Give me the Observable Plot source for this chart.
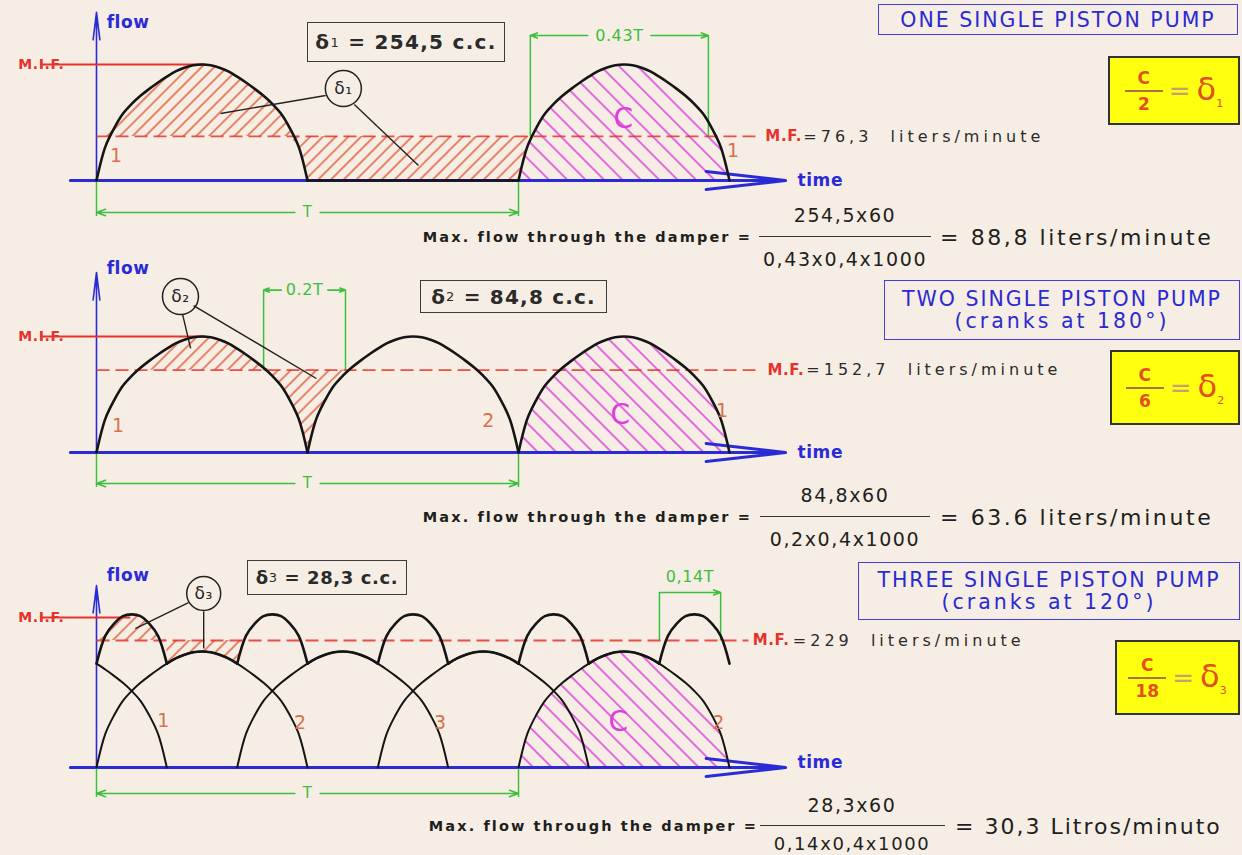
<!DOCTYPE html>
<html><head><meta charset="utf-8">
<script src="https://cdn.jsdelivr.net/npm/d3@7"></script>
<script src="https://cdn.jsdelivr.net/npm/@observablehq/plot@0.6"></script>
<style>
body{margin:0;background:#f6eee4;}
#wrap{position:relative;width:1242px;height:855px;overflow:hidden;font-family:"DejaVu Sans",sans-serif;background:#f6eee4;}
.panel{position:absolute;left:0;}
.ov{position:absolute;white-space:nowrap;}
.dbox{position:absolute;box-sizing:border-box;border:1.6px solid #3a3a3a;display:flex;align-items:center;justify-content:center;font-weight:bold;color:#2a2a2a;white-space:nowrap;}
.dbox sub{font-size:13px;font-weight:normal;vertical-align:-3px;}
.tbox{position:absolute;box-sizing:border-box;border:1.6px solid #4040e0;display:flex;flex-direction:column;align-items:center;justify-content:center;font-size:20.5px;line-height:22px;color:#2a2ad0;letter-spacing:2px;white-space:nowrap;}
.tbox .l2{letter-spacing:3px;}
.ybox{position:absolute;box-sizing:border-box;border:2px solid #333;background:#ffff10;display:flex;align-items:center;justify-content:center;gap:6px;color:#e2501c;}
.frac{display:flex;flex-direction:column;align-items:center;font-size:17px;font-weight:bold;line-height:18px;}
.frac .bar{width:38px;border-top:2px solid #b07040;margin:3px 0;}
.eq{font-size:26px;color:#c8a070;}
.dl{font-size:32px;}
.dl sub{font-size:11px;}
.lab{font-size:14.5px;font-weight:bold;color:#1e1e1e;letter-spacing:2.1px;}
.num{font-size:19px;color:#1e1e1e;letter-spacing:1.6px;}
.res{font-size:22px;color:#1e1e1e;letter-spacing:2.6px;}
.fbar{position:absolute;border-top:1.6px solid #333;height:0;}
</style></head><body><div id="wrap"></div>
<script>
// ---------- data ----------
// arch profile of one single piston pump: height (fraction of peak) at k/24 of a half-period, k=0..12
const archProfile = [0, 0.29, 0.45, 0.575, 0.66, 0.73, 0.79, 0.845, 0.895, 0.94, 0.972, 0.993, 1.0];
const STEPS = 48; // samples per period T
const pumpStarts = [[0, 1], [0, 0.5, 1], [-1/3, 0, 1/3, 2/3, 1, 4/3]];
const drawnArches = [[], [], [-1/3, 0, 1/3, 2/3, 1]];
const meanFlow = [0.38, 0.71, 1.095];
const maxFlow = [1.0, 1.0, 1.293];
const mifEnd = [0.258, 0.258, 0.08];
const mfEnd = [1.573, 1.573, 1.545];
const hatchAbove = [[0, 0.5], [0, 0.5], [0, 1/6]];
const hatchBelow = [[0.25, 1.25], [0.25, 0.75], [1/6, 0.375]];
const cArch = [1, 1, 1];
const segLen = [0.5, 0.5, 1/6];
const mfValueText = ["=76,3  liters/minute", "=152,7  liters/minute", "=229  liters/minute"];
const mfLabelX = [1.585, 1.590, 1.555];
const mfValueX = [1.675, 1.682, 1.650];
const flowLabelY = [1.362, 1.586, 1.655];
const yAxisTop = [1.45, 1.552, 1.569];
const timeLabelY = [0.0, 0.0, 0.04];
const pumpLabelText = [["1", "1"], ["1", "2", "1"], ["1", "2", "3", "2"]];
const pumpLabelX = [[0.047, 1.509], [0.052, 0.929, 1.483], [0.159, 0.483, 0.815, 1.474]];
const pumpLabelY = [[0.216, 0.259], [0.233, 0.276, 0.362], [0.405, 0.388, 0.388, 0.388]];
const cLabelX = [1.249, 1.242, 1.237];
const cLabelY = [0.534, 0.319, 0.388];
const calloutX = [0.585, 0.199, 0.254];
const calloutY = [0.793, 1.345, 1.5];
const calloutText = ["δ₁", "δ₂", "δ₃"];
const leaders = [
  [[0.543, 0.733, 0.294, 0.578], [0.611, 0.655, 0.763, 0.129]],
  [[0.204, 1.190, 0.223, 0.897], [0.230, 1.267, 0.521, 0.638]],
  [[0.218, 1.422, 0.092, 1.198], [0.254, 1.345, 0.254, 1.026]]
];
const dimText = ["0.43T", "0.2T", "0,14T"];
const dimSpan = [[1.028, 1.45], [0.396, 0.59], [1.334, 1.479]];
const dimTop = [1.25, 1.40, 1.509];
const dimTextY = [1.25, 1.40, 1.64];
const tDimY = [-0.276, -0.267, -0.224];
const deltaValue = ["254,5", "84,8", "28,3"];
const titles = [["ONE SINGLE PISTON PUMP"], ["TWO SINGLE PISTON PUMP", "(cranks at 180°)"], ["THREE SINGLE PISTON PUMP", "(cranks at 120°)"]];
const ratioDenom = ["2", "6", "18"];
const numerators = ["254,5x60", "84,8x60", "28,3x60"];
const denominators = ["0,43x0,4x1000", "0,2x0,4x1000", "0,14x0,4x1000"];
const results = ["= 88,8 liters/minute", "= 63.6 liters/minute", "= 30,3 Litros/minuto"];

// ---------- layout ----------
const W = 1242;
const panelTop = [0, 265, 548];
const panelHeight = [265, 283, 307];
const baseFromTop = [180, 187, 219];
const PXT = 422, PXU = 116, X0 = 96;
const deltaBox = [[307, 22, 198, 40], [420, 280, 187, 33], [247, 560, 160, 35]];
const deltaFont = [20, 20, 18];
const deltaSpacing = [1.3, 1.2, 0.6];
const titleBox = [[878, 4, 360, 31], [884, 280, 356, 60], [858, 562, 382, 58]];
const yellowBox = [[1108, 56, 132, 69], [1110, 350, 130, 75], [1115, 640, 125, 75]];
const formulaY = [237, 517, 826];
const numDy = [-22, -22, -21];
const denDy = [22, 22, 17];
const labelRight = [752, 752, 758];
const fracCX = [845, 845, 852];
const fracW = [172, 170, 185];
const resultLeft = [940, 940, 955];
const resultSpacing = [2.6, 2.6, 2.0];

const BLUE = "#2b2bd6", RED = "#e5322b", GREEN = "#3cbf3c", ORANGE = "#e0603a", MAG = "#dd3ddd";
const wrap = document.getElementById("wrap");

function arch(j) { if (j < 0 || j > 24) return 0; return archProfile[j <= 12 ? j : 24 - j]; }

function panel(i) {
  const starts = pumpStarts[i].map(s => Math.round(s * STEPS));
  const flowAt = j => d3.sum(starts, s => arch(j - s));
  const grid = d3.range(0, 73).map(j => ({j, x: j / STEPS, flow: flowAt(j)}));
  const mf = meanFlow[i];
  const inR = r => grid.filter(d => d.x >= r[0] - 1e-9 && d.x <= r[1] + 1e-9);
  const above = inR(hatchAbove[i]).map(d => ({x: d.x, y1: mf, y2: Math.max(d.flow, mf)}));
  const below = inR(hatchBelow[i]).map(d => ({x: d.x, y1: Math.min(d.flow, mf), y2: mf}));
  const cs = Math.round(cArch[i] * STEPS);
  const cArea = grid.filter(d => d.j >= cs && d.j <= cs + 24).map(d => ({x: d.x, y: arch(d.j - cs)}));
  const segN = Math.round(segLen[i] * STEPS);
  const combined = [];
  for (let a = 0; a < 72; a += segN) for (let j = a; j <= a + segN; j++) combined.push({x: j / STEPS, flow: flowAt(j), seg: a});
  const singles = [];
  for (const s of drawnArches[i]) {
    const si = Math.round(s * STEPS);
    for (let j = Math.max(0, si); j <= si + 24; j++) singles.push({x: j / STEPS, y: arch(j - si), z: si});
  }
  const h = panelHeight[i], b = baseFromTop[i];
  const lk = (arr) => arr.map(([x1, y1, x2, y2]) => ({x1, y1, x2, y2}));
  const [d1, d2] = dimSpan[i];
  const dmid = (d1 + d2) / 2, gap = i === 2 ? 0 : (i === 0 ? 0.075 : 0.055);
  const dimLines = i === 2
    ? [{x1: d1, y1: dimTop[i], x2: d2, y2: dimTop[i]}]
    : [{x1: dmid - gap, y1: dimTop[i], x2: d1, y2: dimTop[i]}, {x1: dmid + gap, y1: dimTop[i], x2: d2, y2: dimTop[i]}];
  const dimVerts = [{x1: d1, y1: mf, x2: d1, y2: dimTop[i]}, {x1: d2, y1: mf, x2: d2, y2: dimTop[i]}];
  const tY = tDimY[i];
  const tArrows = [{x1: 0.47, y1: tY, x2: 0, y2: tY}, {x1: 0.53, y1: tY, x2: 1, y2: tY}];
  const tExt = [{x1: 0, y1: 0, x2: 0, y2: tY - 0.03}, {x1: 1, y1: 0, x2: 1, y2: tY - 0.03}];
  const pl = pumpLabelText[i].map((t, k) => ({t, x: pumpLabelX[i][k], y: pumpLabelY[i][k]}));
  const F = "DejaVu Sans";

  const svg = Plot.plot({
    width: W, height: h,
    marginLeft: 0, marginRight: 0, marginTop: 0, marginBottom: 0,
    x: {domain: [-X0 / PXT, (W - X0) / PXT], axis: null},
    y: {domain: [-(h - b) / PXU, b / PXU], axis: null},
    style: {background: "transparent", overflow: "visible", letterSpacing: "0.6px"},
    marks: [
      Plot.areaY(above, {x: "x", y1: "y1", y2: "y2", fill: `url(#hr${i})`}),
      Plot.areaY(below, {x: "x", y1: "y1", y2: "y2", fill: `url(#hr${i})`}),
      Plot.areaY(cArea, {x: "x", y1: 0, y2: "y", fill: `url(#hm${i})`, curve: "catmull-rom"}),
      Plot.arrow([{x1: -0.062, x2: 1.633, y: 0}], {x1: "x1", x2: "x2", y1: "y", y2: "y", stroke: BLUE, strokeWidth: 3, headLength: 40, headAngle: 13}),
      Plot.arrow([{x: 0, y1: 0, y2: yAxisTop[i]}], {x1: "x", x2: "x", y1: "y1", y2: "y2", stroke: BLUE, strokeWidth: 1.6, headLength: 26, headAngle: 14}),
      Plot.link(tExt, {x1: "x1", y1: "y1", x2: "x2", y2: "y2", stroke: GREEN, strokeWidth: 1.5}),
      Plot.arrow(tArrows, {x1: "x1", y1: "y1", x2: "x2", y2: "y2", stroke: GREEN, strokeWidth: 1.6, headLength: 9, headAngle: 40}),
      Plot.text([{x: 0.5, y: tY, t: "T"}], {x: "x", y: "y", text: "t", fill: GREEN, fontSize: 15, fontFamily: F}),
      Plot.link(dimVerts, {x1: "x1", y1: "y1", x2: "x2", y2: "y2", stroke: GREEN, strokeWidth: 1.5}),
      Plot.arrow(dimLines, {x1: "x1", y1: "y1", x2: "x2", y2: "y2", stroke: GREEN, strokeWidth: 1.6, headLength: 7, headAngle: 40}),
      Plot.text([{x: dmid, y: dimTextY[i], t: dimText[i]}], {x: "x", y: "y", text: "t", fill: GREEN, fontSize: 16, fontFamily: F}),
      Plot.link([{x1: 0, x2: mfEnd[i], y: mf}], {x1: "x1", x2: "x2", y1: "y", y2: "y", stroke: RED, strokeWidth: 1.8, strokeDasharray: "13,6", strokeOpacity: 0.85}),
      Plot.link([{x1: -0.133, x2: mifEnd[i], y: maxFlow[i]}], {x1: "x1", x2: "x2", y1: "y", y2: "y", stroke: RED, strokeWidth: 2.2}),
      Plot.line(singles, {x: "x", y: "y", z: "z", stroke: "#151515", strokeWidth: 2, curve: "catmull-rom"}),
      Plot.line(combined, {x: "x", y: "flow", z: "seg", stroke: "#151515", strokeWidth: 2.6, curve: "catmull-rom"}),
      Plot.dot([{x: calloutX[i], y: calloutY[i]}], {x: "x", y: "y", r: i === 2 ? 17 : 18, stroke: "#222", strokeWidth: 1.5, fill: "none"}),
      Plot.text([{x: calloutX[i], y: calloutY[i], t: calloutText[i]}], {x: "x", y: "y", text: "t", fontSize: 17, fill: "#222", fontFamily: F}),
      Plot.link(lk(leaders[i]), {x1: "x1", y1: "y1", x2: "x2", y2: "y2", stroke: "#222", strokeWidth: 1.4}),
      Plot.text([{x: 0.024, y: flowLabelY[i], t: "flow"}], {x: "x", y: "y", text: "t", fill: BLUE, fontSize: 17, fontWeight: "bold", textAnchor: "start", fontFamily: F}),
      Plot.text([{x: 1.661, y: timeLabelY[i], t: "time"}], {x: "x", y: "y", text: "t", fill: BLUE, fontSize: 17, fontWeight: "bold", textAnchor: "start", fontFamily: F}),
      Plot.text([{x: -0.076, y: maxFlow[i], t: "M.I.F."}], {x: "x", y: "y", text: "t", fill: RED, fontSize: 14, fontWeight: "bold", textAnchor: "end", fontFamily: F}),
      Plot.text([{x: mfLabelX[i], y: mf, t: "M.F."}], {x: "x", y: "y", text: "t", fill: RED, fontSize: 15, fontWeight: "bold", textAnchor: "start", fontFamily: F}),
      Plot.text([{x: mfValueX[i], y: mf, t: mfValueText[i]}], {x: "x", y: "y", text: "t", fill: "#2a2a2a", fontSize: 16, textAnchor: "start", fontFamily: F}),
      Plot.text(pl, {x: "x", y: "y", text: "t", fill: "#d9704e", fontSize: 19, fontFamily: F}),
      Plot.text([{x: cLabelX[i], y: cLabelY[i], t: "C"}], {x: "x", y: "y", text: "t", fill: MAG, fontSize: 28, fontFamily: F})
    ]
  });
  const defs = d3.select(svg).insert("defs", ":first-child");
  const pr = defs.append("pattern").attr("id", `hr${i}`).attr("patternUnits", "userSpaceOnUse")
    .attr("width", 9).attr("height", 9).attr("patternTransform", "rotate(45)");
  pr.append("line").attr("x1", 1).attr("y1", 0).attr("x2", 1).attr("y2", 9).attr("stroke", ORANGE).attr("stroke-width", 1.5);
  const pm = defs.append("pattern").attr("id", `hm${i}`).attr("patternUnits", "userSpaceOnUse")
    .attr("width", 13).attr("height", 13).attr("patternTransform", "rotate(-45)");
  pm.append("line").attr("x1", 1).attr("y1", 0).attr("x2", 1).attr("y2", 13).attr("stroke", MAG).attr("stroke-width", 1.5);
  // wide CAD-like lettering for the mean-flow value texts
  d3.select(svg).selectAll("text").each(function () {
    if (this.textContent.startsWith("=")) this.setAttribute("letter-spacing", "4px");
  });
  svg.classList.add("panel");
  svg.style.top = panelTop[i] + "px";
  wrap.appendChild(svg);

  // text boxes and formula
  const mk = (cls, html) => { const d = document.createElement("div"); d.className = cls; d.innerHTML = html; wrap.appendChild(d); return d; };
  const place = (d, x, y, w, hh) => { d.style.left = x + "px"; d.style.top = y + "px"; if (w != null) d.style.width = w + "px"; if (hh != null) d.style.height = hh + "px"; };
  const db = mk("dbox", `δ<sub>${i + 1}</sub>&nbsp;= ${deltaValue[i]} c.c.`);
  db.style.fontSize = deltaFont[i] + "px"; db.style.letterSpacing = deltaSpacing[i] + "px";
  place(db, ...deltaBox[i]);
  place(mk("tbox", titles[i].map((t, k) => `<div class="l${k + 1}">${t}</div>`).join("")), ...titleBox[i]);
  place(mk("ybox", `<div class="frac"><span>C</span><div class="bar"></div><span>${ratioDenom[i]}</span></div><span class="eq">=</span><span class="dl">δ<sub>${i + 1}</sub></span>`), ...yellowBox[i]);
  const fy = formulaY[i];
  const lab = mk("ov lab", "Max. flow through the damper =");
  place(lab, labelRight[i], fy); lab.style.transform = "translate(-100%,-50%)";
  const nm = mk("ov num", numerators[i]); place(nm, fracCX[i], fy + numDy[i]); nm.style.transform = "translate(-50%,-50%)";
  const dn = mk("ov num", denominators[i]); place(dn, fracCX[i], fy + denDy[i]); dn.style.transform = "translate(-50%,-50%)";
  if (i === 2) dn.style.fontSize = "18px";
  const bar = mk("fbar", ""); place(bar, fracCX[i] - fracW[i] / 2, fy - 1, fracW[i]);
  const rs = mk("ov res", results[i]); place(rs, resultLeft[i], fy); rs.style.transform = "translate(0,-50%)";
  rs.style.letterSpacing = resultSpacing[i] + "px";
}
[0, 1, 2].forEach(panel);
</script></body></html>
